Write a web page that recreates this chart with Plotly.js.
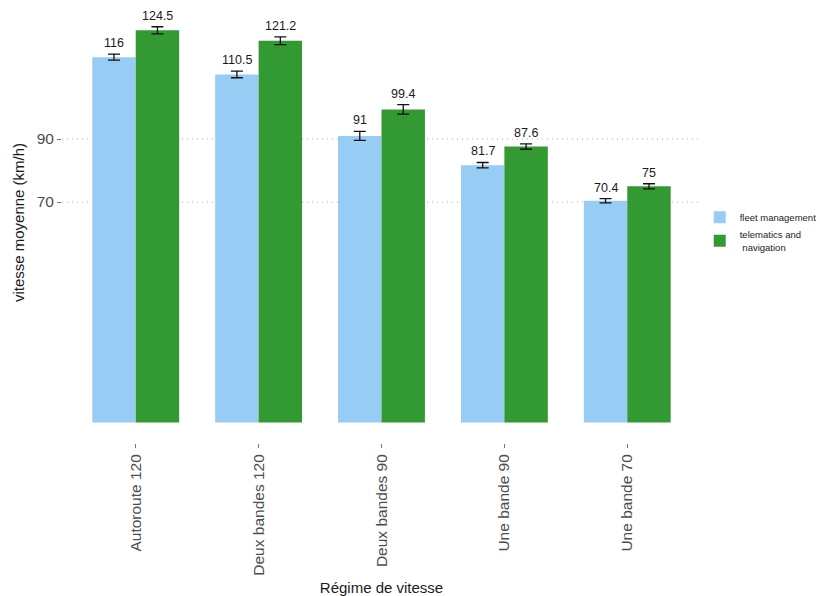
<!DOCTYPE html>
<html><head><meta charset="utf-8">
<script src="https://cdn.plot.ly/plotly-3.0.1.min.js"></script>
<style>body{margin:0;background:#fff}#c{width:820px;height:596px}</style>
</head><body><div id="c"></div>
<script>
const categories = ["Autoroute 120", "Deux bandes 120", "Deux bandes 90", "Une bande 90", "Une bande 70"];
const fleetValues = [116, 110.5, 91, 81.7, 70.4];
const fleetErrors = [0.95, 1.05, 1.4, 0.85, 0.7];
const teleValues = [124.5, 121.2, 99.4, 87.6, 75];
const teleErrors = [1.15, 1.25, 1.5, 0.85, 0.8];
const fleetLabels = ["116", "110.5", "91", "81.7", "70.4"];
const teleLabels = ["124.5", "121.2", "99.4", "87.6", "75"];
const yTicks = [70, 90];

const fleet = {
  type: "bar", name: "fleet management", x: categories, y: fleetValues,
  marker: {color: "#97cdf5", line: {width: 0}},
  error_y: {type: "data", array: fleetErrors, visible: true, color: "#111", thickness: 1.3, width: 6}
};
const tele = {
  type: "bar", name: "telematics and<br> navigation", x: categories, y: teleValues,
  marker: {color: "#339933", line: {width: 0}},
  error_y: {type: "data", array: teleErrors, visible: true, color: "#111", thickness: 1.3, width: 6}
};

const annotations = [];
categories.forEach((c, i) => {
  annotations.push({x: c, y: fleetValues[i] + fleetErrors[i], xref: "x", yref: "y", text: fleetLabels[i],
    showarrow: false, xshift: -21.5, yshift: 11, font: {size: 12.5, color: "#1a1a1a", family: "Liberation Sans, Arial, sans-serif"}});
  annotations.push({x: c, y: teleValues[i] + teleErrors[i], xref: "x", yref: "y", text: teleLabels[i],
    showarrow: false, xshift: 21.5, yshift: 11, font: {size: 12.5, color: "#1a1a1a", family: "Liberation Sans, Arial, sans-serif"}});
});

const layout = {
  width: 820, height: 596,
  margin: {l: 62, r: 119, t: 2, b: 153, autoexpand: false},
  paper_bgcolor: "#fff", plot_bgcolor: "#fff",
  barmode: "group", bargap: 0.293, bargroupgap: 0,
  font: {family: "Liberation Sans, Arial, sans-serif", color: "#222"},
  showlegend: true,
  legend: {x: 0.998, y: 0.48, xanchor: "left", yanchor: "middle", font: {size: 9.5, color: "#222"},
    tracegroupgap: 2, itemwidth: 30, bgcolor: "rgba(0,0,0,0)"},
  xaxis: {
    type: "category", range: [-0.6, 4.6], showgrid: false, zeroline: false, showline: false,
    tickangle: -90, ticks: "outside", ticklen: 4, tickcolor: "#777", tickwidth: 1,
    tickfont: {size: 15.5, color: "#4d4d4d"},
    title: {text: "Régime de vitesse", font: {size: 15, color: "#1a1a1a"}, standoff: 12}
  },
  yaxis: {
    range: [-6.5, 133.5], tickvals: yTicks, ticktext: yTicks.map(String),
    showgrid: true, gridcolor: "#d6d6d6", griddash: "1px,4px", gridwidth: 1.3,
    zeroline: false, showline: false,
    ticks: "outside", ticklen: 4, tickcolor: "#777",
    tickfont: {size: 15.5, color: "#4d4d4d"},
    title: {text: "vitesse moyenne (km/h)", font: {size: 15, color: "#1a1a1a"}, standoff: 8}
  },
  annotations: annotations
};

Plotly.newPlot("c", [fleet, tele], layout, {displayModeBar: false, staticPlot: true});
</script></body></html>
